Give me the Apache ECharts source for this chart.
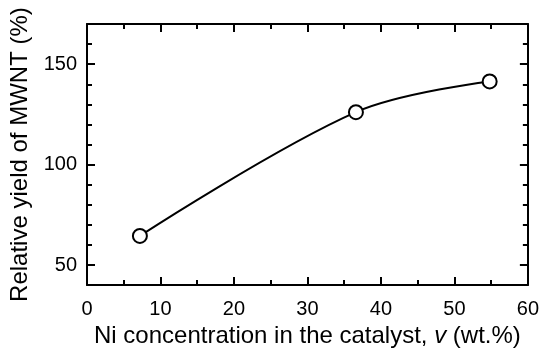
<!DOCTYPE html>
<html><head><meta charset="utf-8">
<script src="https://cdn.jsdelivr.net/npm/echarts@6/dist/echarts.min.js"></script>
<style>html,body{margin:0;padding:0;background:#fff}#c{width:542px;height:353px}</style>
</head><body><div id="c"></div>
<script>
const niConc = [7.2, 36.6, 54.8];
const relYield = [64.5, 126.1, 141.4];
const xTicks = [0, 10, 20, 30, 40, 50, 60];
const yTicks = [50, 100, 150];
const yMinorTicks = [40, 60, 70, 80, 90, 110, 120, 130, 140, 160, 170];
const xTitle = 'Ni concentration in the catalyst, ';
const yTitle = 'Relative yield of MWNT (%)';

const F = '"Liberation Sans", Arial, sans-serif';
const chart = echarts.init(document.getElementById('c'));
const axLine = {show: true, lineStyle: {color: '#000', width: 2}};
const xBase = {type: 'value', min: 0, max: 60, interval: 10, splitLine: {show: false}};
const yBase = {type: 'value', min: 40, max: 170, splitLine: {show: false}};
chart.setOption({
  animation: false,
  grid: {left: 87, right: 14, top: 24, bottom: 63},
  xAxis: [
    Object.assign({}, xBase, {
      position: 'bottom', axisLine: axLine,
      axisTick: {inside: true, length: 8, lineStyle: {color: '#000', width: 2}},
      minorTick: {show: true, splitNumber: 2, length: 5, lineStyle: {color: '#000', width: 2}},
      axisLabel: {color: '#000', fontFamily: F, fontSize: 20, margin: 14, customValues: xTicks},
      name: '{n|' + xTitle + '}{i|v}{n| (wt.%)}', nameLocation: 'middle', nameGap: 32,
      nameTextStyle: {rich: {n: {fontFamily: F, fontSize: 24, color: '#000'}, i: {fontFamily: F, fontSize: 24, color: '#000', fontStyle: 'italic'}}}
    }),
    Object.assign({}, xBase, {
      position: 'top', axisLine: axLine,
      axisTick: {inside: true, length: 8, lineStyle: {color: '#000', width: 2}},
      minorTick: {show: true, splitNumber: 2, length: 5, lineStyle: {color: '#000', width: 2}},
      axisLabel: {show: false}
    })
  ],
  yAxis: [
    Object.assign({}, yBase, {
      position: 'left', axisLine: axLine,
      axisTick: {inside: true, length: 8, customValues: yTicks, lineStyle: {color: '#000', width: 2}},
      axisLabel: {color: '#000', fontFamily: F, fontSize: 20, margin: 10, customValues: yTicks},
      name: yTitle, nameLocation: 'middle', nameGap: 52, nameRotate: 90,
      nameTextStyle: {fontFamily: F, fontSize: 24, color: '#000'}
    }),
    Object.assign({}, yBase, {
      position: 'left', axisLine: {show: false},
      axisTick: {inside: true, length: 5, customValues: yMinorTicks, lineStyle: {color: '#000', width: 2}},
      axisLabel: {show: false}
    }),
    Object.assign({}, yBase, {
      position: 'right', axisLine: axLine,
      axisTick: {inside: true, length: 8, customValues: yTicks, lineStyle: {color: '#000', width: 2}},
      axisLabel: {show: false}
    }),
    Object.assign({}, yBase, {
      position: 'right', axisLine: {show: false},
      axisTick: {inside: true, length: 5, customValues: yMinorTicks, lineStyle: {color: '#000', width: 2}},
      axisLabel: {show: false}
    })
  ],
  series: [{
    type: 'line',
    data: niConc.map((x, i) => [x, relYield[i]]),
    smooth: 0.35,
    symbol: 'circle', symbolSize: 14,
    lineStyle: {color: '#000', width: 2},
    itemStyle: {color: '#fff', borderColor: '#000', borderWidth: 2},
    z: 5
  }]
});
</script></body></html>
